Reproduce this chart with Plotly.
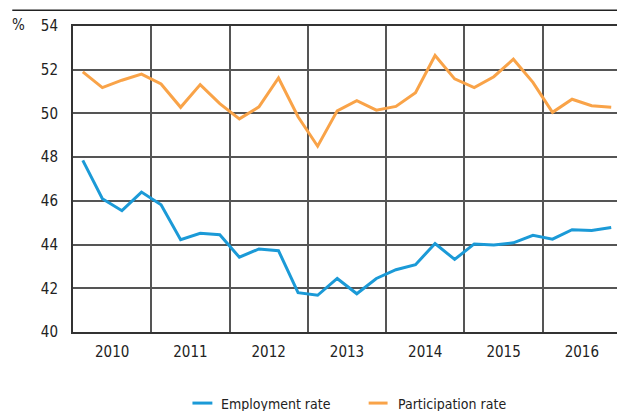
import plotly.graph_objects as go

years = [2010, 2011, 2012, 2013, 2014, 2015, 2016]
quarters = [1, 2, 3, 4]
employment_rate = [47.85, 46.1, 45.55, 46.4, 45.82, 44.22, 44.52, 44.45,
                   43.42, 43.8, 43.72, 41.8, 41.68, 42.45, 41.75, 42.45,
                   42.85, 43.08, 44.05, 43.32, 44.03, 43.98, 44.08, 44.42,
                   44.25, 44.68, 44.64, 44.78]
participation_rate = [51.9, 51.18, 51.52, 51.8, 51.35, 50.28, 51.32, 50.45,
                      49.75, 50.3, 51.62, 49.85, 48.5, 50.12, 50.58, 50.15,
                      50.32, 50.95, 52.65, 51.58, 51.18, 51.68, 52.48, 51.42,
                      50.05, 50.65, 50.35, 50.28]
series_names = ["Employment rate", "Participation rate"]
year_labels = [str(y) for y in years]
y_ticks = [40, 42, 44, 46, 48, 50, 52, 54]

# quarter centres on a continuous year axis
x = [y + (q - 0.5) / 4 for y in years for q in quarters]

FONT = "Liberation Sans Narrow, DejaVu Sans Condensed, Arial Narrow, sans-serif"
BLUE = "#1b9ad7"
ORANGE = "#f9a348"
COLORS = [BLUE, ORANGE]

# the page body adds an 8px offset; work in window pixels and convert
OFF = 8
W, H = 625, 411
PLOT_L, PLOT_R, PLOT_T, PLOT_B = 73, 623.5, 22, 332  # window pixels
L = PLOT_L - OFF
T = PLOT_T - OFF
R = W - (PLOT_R - OFF)
B = H - (PLOT_B - OFF)
PW = PLOT_R - PLOT_L
PH = PLOT_B - PLOT_T


def px_x(p):
    return (p - PLOT_L) / PW


def px_y(p):
    return (PLOT_B - p) / PH


fig = go.Figure()
for name, vals, col in zip(series_names, [employment_rate, participation_rate], COLORS):
    fig.add_trace(go.Scatter(x=x, y=vals, mode="lines", name=name,
                             line=dict(color=col, width=3)))

fig.update_layout(
    width=W, height=H,
    margin=dict(l=L, r=R, t=T, b=B),
    plot_bgcolor="white", paper_bgcolor="white",
    font=dict(family=FONT, size=15, color="#222"),
    showlegend=False,
    xaxis=dict(range=[years[0], years[-1] + 1],
               tickvals=[y + 0.5 for y in years], ticktext=year_labels,
               showgrid=False, zeroline=False,
               ticks="outside", ticklen=5, tickcolor="rgba(0,0,0,0)",
               showline=True, linecolor="#333", linewidth=2, mirror=True,
               minor=dict(tickvals=years[1:], showgrid=True, gridcolor="#555", gridwidth=1.5)),
    yaxis=dict(range=[40, 54], tickvals=y_ticks,
               showgrid=True, gridcolor="#555", gridwidth=1.5, zeroline=False,
               ticks="outside", ticklen=10, tickcolor="rgba(0,0,0,0)",
               showline=True, linecolor="#333", linewidth=2, mirror=True),
)

# rule above the chart
fig.add_shape(type="line", xref="paper", yref="paper",
              x0=px_x(12), x1=px_x(630), y0=px_y(6), y1=px_y(6),
              line=dict(color="#222", width=1.5))
# unit label
fig.add_annotation(text="%", xref="paper", yref="paper",
                   x=px_x(18), y=px_y(21), xanchor="center", yanchor="middle",
                   showarrow=False, font=dict(family=FONT, size=15, color="#222"))

# legend (drawn manually so it can sit at the very bottom edge)
legend_sym = [(193, 213), (370, 389)]
legend_txt = [220, 397]
for name, col, (sx0, sx1), tx in zip(series_names, COLORS, legend_sym, legend_txt):
    fig.add_shape(type="line", xref="paper", yref="paper",
                  x0=px_x(sx0), x1=px_x(sx1), y0=px_y(404), y1=px_y(404),
                  line=dict(color=col, width=3))
    fig.add_annotation(text=name, xref="paper", yref="paper",
                       x=px_x(tx), y=px_y(404.5), xanchor="left", yanchor="middle",
                       showarrow=False, font=dict(family=FONT, size=14, color="#222"))

fig.write_html("out.html")
